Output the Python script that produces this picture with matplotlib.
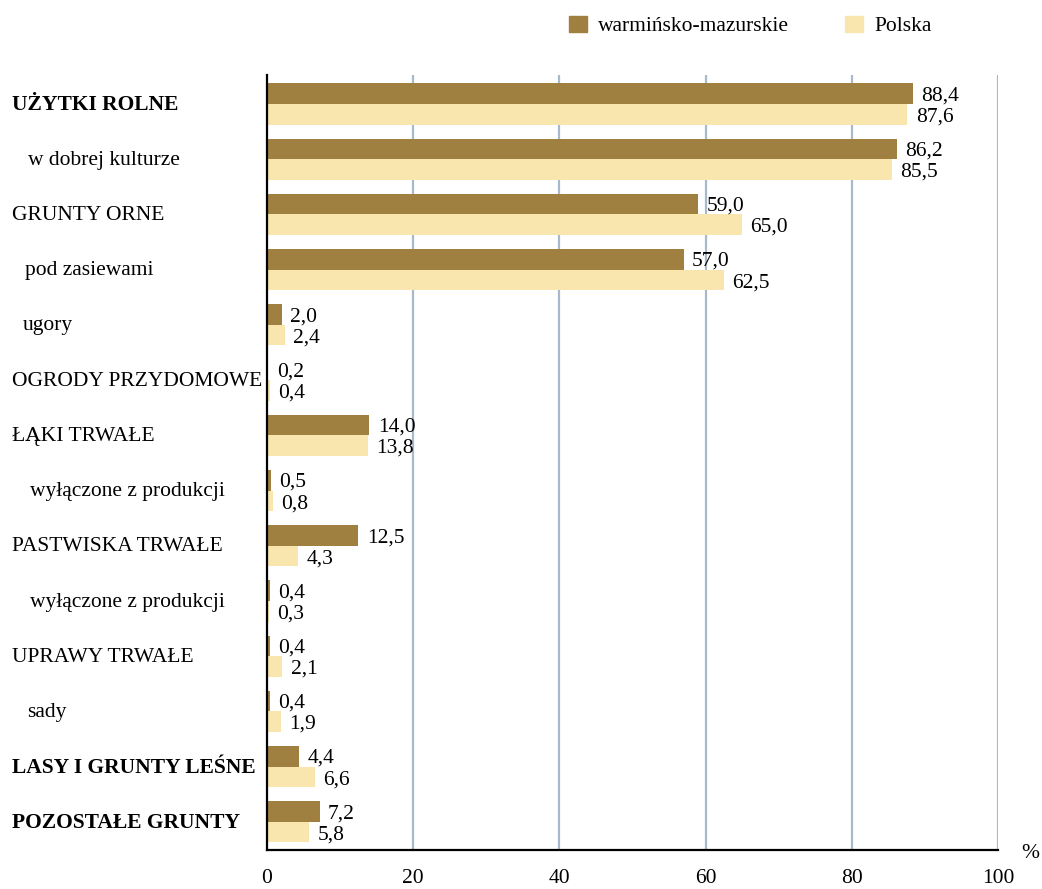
import numpy as np
import matplotlib.pyplot as plt
from matplotlib.transforms import blended_transform_factory
from matplotlib.patches import Patch

plt.rcParams['font.family'] = ['Liberation Serif', 'DejaVu Serif']

# ── data ────────────────────────────────────────────────────────────────────
categories = ["UŻYTKI ROLNE", "w dobrej kulturze", "GRUNTY ORNE", "pod zasiewami",
              "ugory", "OGRODY PRZYDOMOWE", "ŁĄKI TRWAŁE", "wyłączone z produkcji",
              "PASTWISKA TRWAŁE", "wyłączone z produkcji", "UPRAWY TRWAŁE", "sady",
              "LASY I GRUNTY LEŚNE", "POZOSTAŁE GRUNTY"]
label_x = [12, 28, 12, 25, 23, 12, 12, 30, 12, 30, 12, 27, 12, 12]   # px from left
bold = [True, False, False, False, False, False, False, False, False, False,
        False, False, True, True]
warm_maz = [88.4, 86.2, 59.0, 57.0, 2.0, 0.2, 14.0, 0.5, 12.5, 0.4, 0.4, 0.4, 4.4, 7.2]
polska = [87.6, 85.5, 65.0, 62.5, 2.4, 0.4, 13.8, 0.8, 4.3, 0.3, 2.1, 1.9, 6.6, 5.8]
xticks = [0, 20, 40, 60, 80, 100]

C_WM = "#A08040"
C_PL = "#F8E6AE"
GRID = "#A9B9CC"
FS = 15.5

W, H = 1042, 889
fig = plt.figure(figsize=(W / 100, H / 100), dpi=100)
ax = fig.add_axes([267 / W, 39 / H, (998 - 267) / W, (850 - 75) / H])

y = np.arange(len(categories))
bh = 0.372
ax.barh(y - bh / 2, warm_maz, height=bh, color=C_WM, zorder=3)
ax.barh(y + bh / 2, polska, height=bh, color=C_PL, zorder=3)

ax.set_xlim(0, 100)
ax.set_ylim(len(categories) - 0.49, -0.525)

def fmt(v):
    return f"{v:.1f}".replace(".", ",")

for i, (a, b) in enumerate(zip(warm_maz, polska)):
    ax.annotate(fmt(a), (a, i - bh / 2), xytext=(6, -1.5), textcoords="offset points",
                ha="left", va="center", fontsize=FS, zorder=4)
    ax.annotate(fmt(b), (b, i + bh / 2), xytext=(6, -2), textcoords="offset points",
                ha="left", va="center", fontsize=FS, zorder=4)

# category labels, left aligned in figure pixels
tr = blended_transform_factory(fig.transFigure, ax.transData)
for i, (name, lx, bd) in enumerate(zip(categories, label_x, bold)):
    ax.text(lx / W, i + 0.02, name, transform=tr, ha="left", va="center", fontsize=FS,
            fontweight="bold" if bd else "normal")

ax.set_yticks([])
ax.set_xticks(xticks)
ax.set_xticklabels([str(t) for t in xticks], fontsize=FS)
ax.tick_params(axis="x", length=0, pad=14)
for t in xticks[1:]:
    ax.axvline(t, color=GRID, lw=1.6, zorder=1)
for s in ["top", "right"]:
    ax.spines[s].set_visible(False)
ax.spines["left"].set_linewidth(1.6)
ax.spines["bottom"].set_linewidth(1.6)
ax.spines["left"].set_zorder(5)

fig.text(1030 / W, 1 - 853 / H, "%", ha="center", va="center", fontsize=FS)

handles = [Patch(color=C_WM), Patch(color=C_PL)]
fig.legend(handles, ["warmińsko-mazurskie", "Polska"], loc="center left",
           bbox_to_anchor=(550 / W, 1 - 26 / H), ncol=2, frameon=False, fontsize=FS,
           handlelength=0.8, handleheight=0.8, handletextpad=0.55, columnspacing=2.6)

fig.savefig("out.png", dpi=100)
